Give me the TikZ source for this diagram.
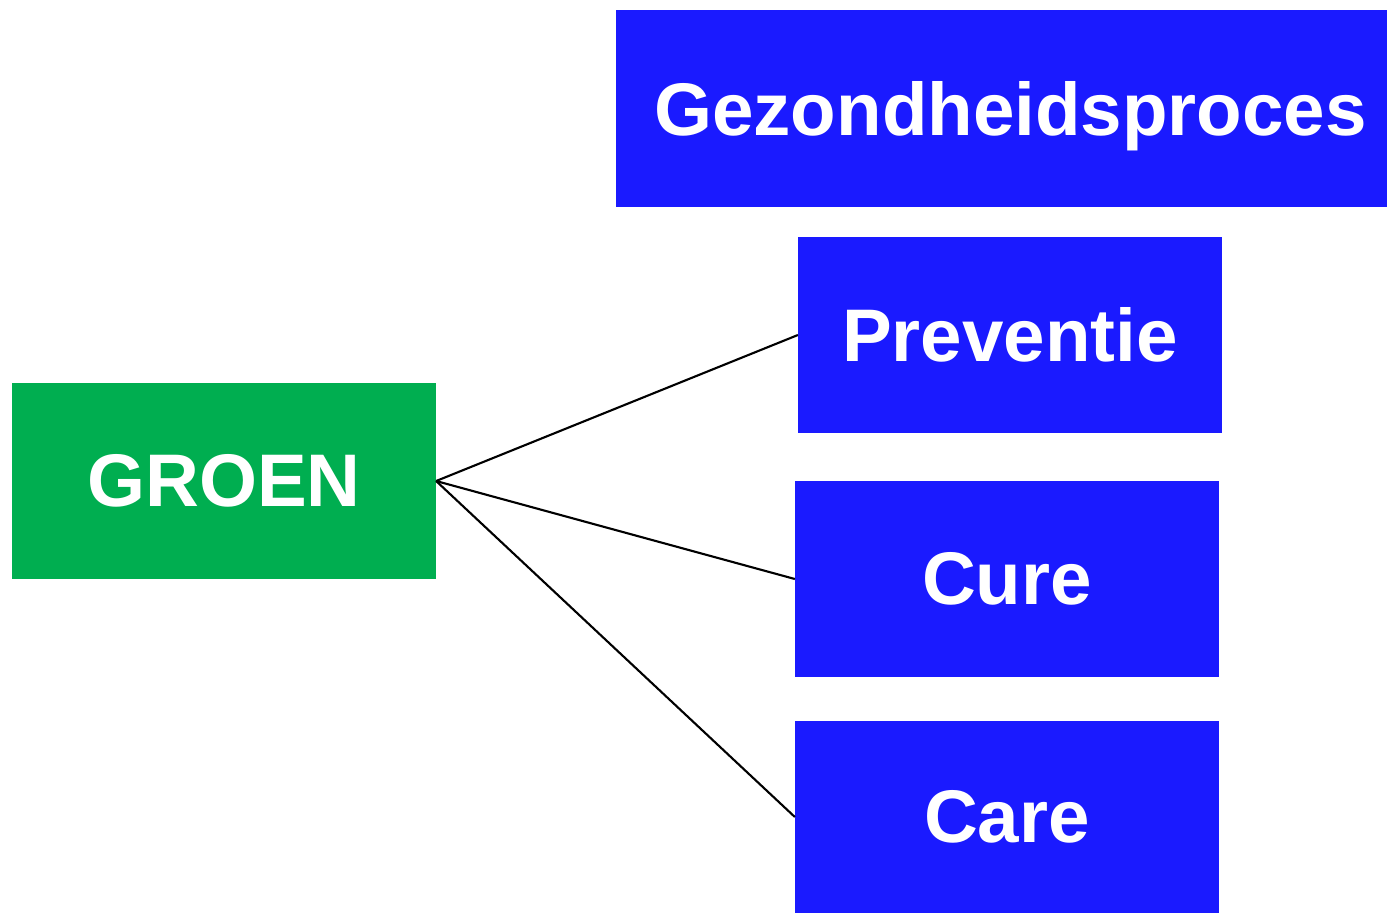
\documentclass[tikz,border=0pt]{standalone}
\usepackage{fontspec}
\setmainfont{Liberation Sans}
\usepackage{xcolor}
\usepackage{tikz}
\definecolor{procesblauw}{RGB}{26,26,255}
\definecolor{groengroen}{RGB}{0,174,80}

\begin{document}
\begin{tikzpicture}[x=0.01cm, y=-0.01cm]
      \useasboundingbox (0,0) rectangle (1387,914);
      \tikzstyle{TextStyle} = [text=white, font=\fontsize{21.2}{25}\selectfont\bfseries]
      \tikzstyle{BoxStyle} = [TextStyle, inner sep=0pt, outer sep=0pt]
      \tikzstyle{BlueBox} = [BoxStyle, fill=procesblauw]
      \tikzstyle{GreenBox} = [BoxStyle, fill=groengroen]
      \node[BlueBox, minimum width=7.71cm, minimum height=1.97cm,
        label={[TextStyle, xshift=0.09cm, yshift=-0.08cm]center:Gezondheidsproces}] (proces) at (1001.5,108.5) {};
      \node[BlueBox, minimum width=4.24cm, minimum height=1.96cm] (preventie) at (1010,335) {Preventie};
      \node[BlueBox, minimum width=4.24cm, minimum height=1.96cm] (cure) at (1007,579) {Cure};
      \node[BlueBox, minimum width=4.24cm, minimum height=1.92cm] (care) at (1007,817) {Care};
      \node[GreenBox, minimum width=4.24cm, minimum height=1.96cm] (groen) at (224,481) {GROEN};
      \tikzstyle{EdgeStyle} = [draw=black, line width=0.6pt]
      \draw[EdgeStyle] (groen.east) -- (preventie.west);
      \draw[EdgeStyle] (groen.east) -- (cure.west);
      \draw[EdgeStyle] (groen.east) -- (care.west);
\end{tikzpicture}
\end{document}
